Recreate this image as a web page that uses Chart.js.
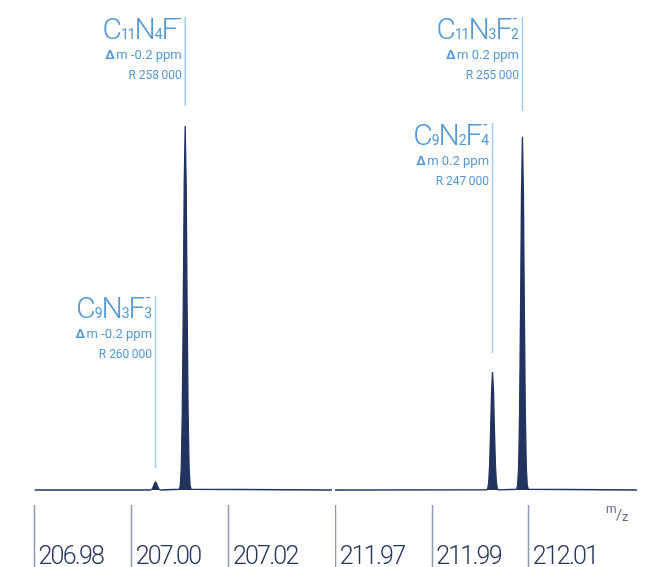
<!DOCTYPE html>
<html><head><meta charset="utf-8">
<script src="https://cdn.jsdelivr.net/npm/chart.js@4.4.0/dist/chart.umd.min.js"></script>
<style>
html,body{margin:0;padding:0;background:#fff;width:659px;height:567px;overflow:hidden}
#l{position:absolute;left:0;top:0;width:332px;height:567px}
#r{position:absolute;left:335px;top:0;width:324px;height:567px}
</style></head><body>
<div id="l"><canvas id="cl"></canvas></div>
<div id="r"><canvas id="cr"></canvas></div>
<script>
// ---- data ----
const leftMz = [206.9800,
  207.0037,207.0039,207.0041,207.0043,207.0045,207.0047,207.0049,207.0051,207.0053,207.0055,207.0057,207.0059,207.0061,
  207.0098,207.0100,207.0102,207.0104,207.0106,207.0108,207.0110,207.0112,207.0114,207.0116,207.0118,207.0120,207.0122,
  207.0412];
const leftIntensity = [0,
  0,0.03,0.14,0.46,1.1,1.85,2.2,1.85,1.1,0.46,0.14,0.03,0,
  0.2,1.3,6.3,21,50,84,100,84,50,21,6.3,1.3,0.2,
  0];
const rightMz = [211.96985,
  212.0013,212.0015,212.0017,212.0019,212.0021,212.0023,212.0025,212.0027,212.0029,212.0031,212.0033,212.0035,212.0037,
  212.0075,212.0077,212.0079,212.0081,212.0083,212.0085,212.0087,212.0089,212.0091,212.0093,212.0095,212.0097,212.0099,
  212.03244];
const rightIntensity = [0,
  0.06,0.4,2.0,6.8,16.2,27.2,32.4,27.2,16.2,6.8,2.0,0.4,0.06,
  0.2,1.3,6.1,20.4,48.5,81.5,97,81.5,48.5,20.4,6.1,1.3,0.2,
  0];
const leftTicks = [206.98, 207.00, 207.02];
const leftTickLabels = ['206.98','207.00','207.02'];
const rightTicks = [211.97, 211.99, 212.01];
const rightTickLabels = ['211.97','211.99','212.01'];

const annFormula = [
  [['C','m'],['11','b'],['N','m'],['4','b'],['F','m'],['-','p']],
  [['C','m'],['9','b'],['N','m'],['3','b'],['F','m'],['3','s']],
  [['C','m'],['11','b'],['N','m'],['3','b'],['F','m'],['2','s']],
  [['C','m'],['9','b'],['N','m'],['2','b'],['F','m'],['4','s']]
];
const annDelta = ['m -0.2 ppm','m -0.2 ppm','m 0.2 ppm','m 0.2 ppm'];
const annRes = ['R 258\u2009000','R 260\u2009000','R 255\u2009000','R 247\u2009000'];
const annMz = [207.0110, 207.0049, 212.0087, 212.0025];
const annPanel = ['L','L','R','R'];
// leader line extent (in intensity units)
const annLine = [[129.9,105.5],[53.3,6.0],[129.9,104.1],[100.8,37.6]];

// ---- styles ----
const NAVY = '#22335f';
const BLUE = '#5598d6';
const LINE = '#a3cbee';

function drawFormula(ctx, parts, right, base){
  const F = {m:'300 30px Roboto', b:'14px Roboto', p:'16px Roboto', s:'14px Roboto'};
  const LS = {m:-1.2, b:-1, p:0, s:0};
  const widths = parts.map(p=>{
    ctx.font=F[p[1]];
    ctx.letterSpacing = LS[p[1]]+'px';
    let w=ctx.measureText(p[0]).width;
    if(p[1]==='s'){ ctx.font='16px Roboto'; w=Math.max(w, ctx.measureText('-').width);}
    return w;});
  let x = right - widths.reduce((a,b)=>a+b,0);
  ctx.textAlign='left'; ctx.textBaseline='alphabetic';
  parts.forEach((p,i)=>{
    ctx.font=F[p[1]];
    ctx.letterSpacing = LS[p[1]]+'px';
    if(p[1]==='p'){ ctx.fillText('-', x, base-15); }
    else if(p[1]==='s'){
      ctx.fillText(p[0], x, base);
      ctx.font='16px Roboto';
      const hw = ctx.measureText('-').width;
      ctx.fillText('-', x+(widths[i]-hw)/2, base-15);
    } else ctx.fillText(p[0], x, base);
    x += widths[i];
  });
  ctx.letterSpacing='0px';
}

function annPlugin(panel){
  return {
    id:'ann'+panel,
    beforeDraw(chart){ chart.ctx.letterSpacing='-1.8px'; },
    beforeDatasetsDraw(chart){ chart.ctx.letterSpacing='0px'; },
    afterDatasetsDraw(chart){
      const ctx=chart.ctx, xs=chart.scales.x, ys=chart.scales.y;
      ctx.save();
      ctx.letterSpacing='0px';
      annMz.forEach((mz,i)=>{
        if(annPanel[i]!==panel) return;
        const x = xs.getPixelForValue(mz);
        const t = ys.getPixelForValue(annLine[i][0]);
        const b = ys.getPixelForValue(annLine[i][1]);
        ctx.strokeStyle=LINE; ctx.lineWidth=1.5;
        ctx.beginPath(); ctx.moveTo(x,t); ctx.lineTo(x,b); ctx.stroke();
        const right = x-3.5;
        ctx.fillStyle=BLUE;
        drawFormula(ctx, annFormula[i], right, t+22);
        ctx.textAlign='left'; ctx.textBaseline='alphabetic';
        ctx.font='bold 13px Roboto'; const wD=ctx.measureText('\u0394').width;
        ctx.font='13px Roboto'; const wR=ctx.measureText(annDelta[i]).width;
        const x0 = right-wR-wD-1.5;
        ctx.font='bold 13px Roboto'; ctx.fillText('\u0394', x0, t+42);
        ctx.font='13px Roboto'; ctx.fillText(annDelta[i], x0+wD+1.5, t+42);
        ctx.font='12px Roboto'; ctx.textAlign='right';
        ctx.fillText(annRes[i], right, t+62);
      });
      ctx.restore();
    },
    afterDraw(chart){
      if(panel!=='R') return;
      const ctx=chart.ctx;
      ctx.save();
      ctx.letterSpacing='0px';
      ctx.fillStyle='#5e6889'; ctx.textAlign='left'; ctx.textBaseline='alphabetic';
      ctx.font='12px Roboto'; ctx.fillText('m', 271, 513);
      ctx.font='15px Roboto'; ctx.fillText('/', 281, 520);
      ctx.font='13px Roboto'; ctx.fillText('z', 287, 521);
      ctx.restore();
    }
  };
}

function makeChart(id, panel, mz, inten, tickVals, tickLabels, xmin, xmax, pad){
  return new Chart(document.getElementById(id), {
    type:'line',
    data:{datasets:[{data: mz.map((x,i)=>({x:x, y:inten[i]})),
      borderColor:NAVY, backgroundColor:NAVY, borderWidth:1.3, fill:'origin',
      pointRadius:0, tension:0}]},
    options:{
      responsive:true, maintainAspectRatio:false, animation:false,
      layout:{padding:pad},
      plugins:{legend:{display:false}, tooltip:{enabled:false}},
      scales:{
        x:{type:'linear', min:xmin, max:xmax,
          afterBuildTicks: s=>{ s.ticks = tickVals.map(v=>({value:v})); },
          afterFit: s=>{ s.height=62; },
          grid:{display:true, drawOnChartArea:false, drawTicks:true, tickLength:62, tickColor:'#8e97b4', tickWidth:1.5},
          border:{display:false},
          ticks:{align:'start', labelOffset:4, padding:-24, color:'#26355f',
            font:{family:'Roboto', size:25, weight:'300'},
            callback:(v,i)=>tickLabels[i], maxRotation:0, minRotation:0, autoSkip:false}
        },
        y:{display:false, min:-4.12, max:134.6}
      }
    },
    plugins:[annPlugin(panel)]
  });
}

makeChart('cl','L', leftMz, leftIntensity, leftTicks, leftTickLabels, 206.98, 207.0412, {left:34.5, right:0, top:0, bottom:0});
makeChart('cr','R', rightMz, rightIntensity, rightTicks, rightTickLabels, 211.96985, 212.03244, {left:0, right:22, top:0, bottom:0});
</script></body></html>
